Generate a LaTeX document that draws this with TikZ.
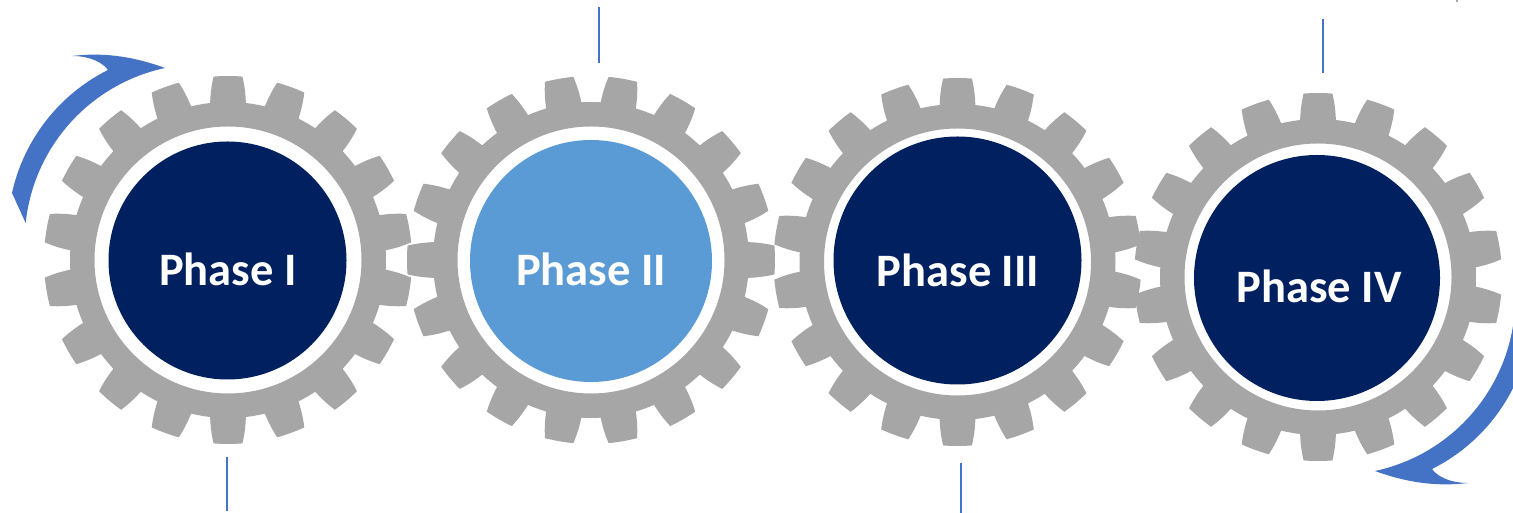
\documentclass[tikz,border=0pt]{standalone}
\usepackage{fontspec}
\setmainfont{Carlito}[BoldFont={Carlito Bold}]
\definecolor{gearcol}{HTML}{A6A6A6}
\definecolor{navy}{HTML}{002060}
\definecolor{sky}{HTML}{5B9BD5}
\definecolor{accent}{HTML}{4472C4}
\tikzset{
  x=1pt,y=1pt,
  discstyle/.style={circle,inner sep=0pt,draw=none},
  labelstyle/.style={anchor=base,text=white,inner sep=0pt,font=\fontsize{46.5}{46.5}\selectfont\bfseries},
  tick/.style={draw=accent,line width=1.4pt},
  gear/.pic={
    \fill[gearcol,even odd rule]
      (-13.5+\gearrot:158)
      \foreach \a in {0,20,...,340}{
        arc[start angle=\a-13.5+\gearrot,end angle=\a-6.5+\gearrot,radius=158]
        .. controls (\a-5.9+\gearrot:170) and (\a-5.1+\gearrot:178) .. (\a-4.5+\gearrot:184)
        arc[start angle=\a-4.5+\gearrot,end angle=\a+4.5+\gearrot,radius=184]
        .. controls (\a+5.1+\gearrot:178) and (\a+5.9+\gearrot:170) .. (\a+6.5+\gearrot:158)
      } -- cycle
      (0,0) circle[radius=133.5];
  }
}
\newcommand{\hookshape}{%
  \fill[accent]
    (12,320)
    arc[start angle=167.5,end angle=116.6,radius=181.5]
    .. controls (104,449) and (92,457) .. (72,457)
    .. controls (105,461) and (135,456) .. (165,445)
    arc[start angle=102.1,end angle=174,radius=177.5]
    -- cycle;
}
\begin{document}
\begin{tikzpicture}
\useasboundingbox (0,0) rectangle (1513,513);
\clip (0,0) rectangle (1513,513);
\hookshape
\begin{scope}[rotate around={180:(770,243.5)}]
\hookshape
\end{scope}
\def\gearrot{10}
\pic at (228,253) {gear};
\def\gearrot{0}
\pic at (591,253) {gear};
\def\gearrot{10}
\pic at (957.5,251) {gear};
\pic at (1318,236) {gear};
\node[discstyle,fill=navy,minimum size=238pt] (d1) at (227.5,252.5) {};
\node[discstyle,fill=sky,minimum size=242pt] (d2) at (591,252) {};
\node[discstyle,fill=navy,minimum size=248pt] (d3) at (957.5,252.5) {};
\node[discstyle,fill=navy,minimum size=246pt] (d4) at (1317,235) {};
\node[labelstyle] (t1) at (228,227) {Phase I};
\node[labelstyle] (t2) at (591,227) {Phase II};
\node[labelstyle] (t3) at (958,226) {Phase III};
\node[labelstyle] (t4) at (1319,210) {Phase IV};
\coordinate (a1) at (227,56); \coordinate (b1) at (227,2);
\coordinate (a2) at (599,506); \coordinate (b2) at (599,450);
\coordinate (a3) at (961,50); \coordinate (b3) at (961,0);
\coordinate (a4) at (1323,494); \coordinate (b4) at (1323,440);
\draw[tick] (a1) -- (b1);
\draw[tick] (a2) -- (b2);
\draw[tick] (a3) -- (b3);
\draw[tick] (a4) -- (b4);
\coordinate (a5) at (1457,513); \coordinate (b5) at (1457,511);
\draw[draw=gearcol,line width=1.4pt] (a5) -- (b5);
\end{tikzpicture}
\end{document}
